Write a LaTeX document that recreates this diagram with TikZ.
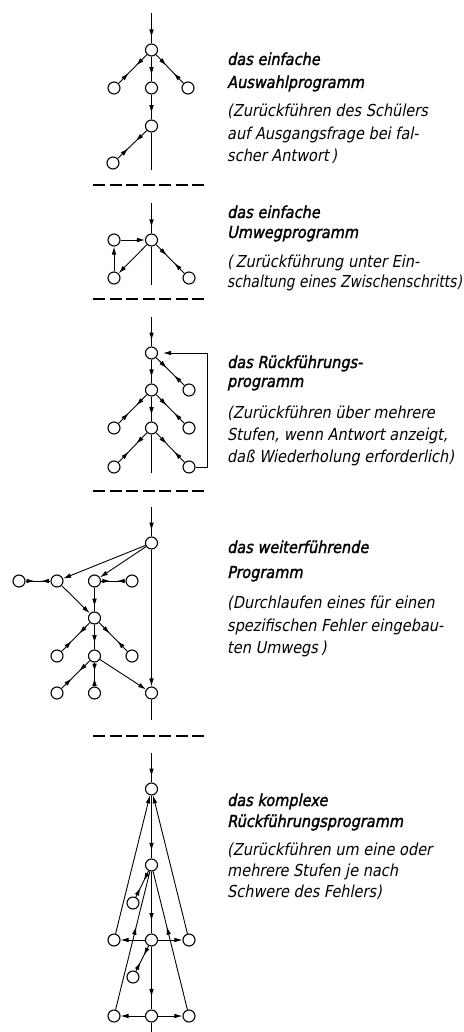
\documentclass[tikz,border=0pt]{standalone}
\usepackage{fontspec}
\usepackage{graphicx}
\usetikzlibrary{arrows.meta,decorations.markings}
\newfontfamily\lettering[FakeStretch=0.88,FakeSlant=0.2]{DejaVu Sans}
\newfontfamily\titlefont[FakeStretch=0.88,FakeSlant=0.2,FakeBold=1.6]{DejaVu Sans}
\tikzset{
  >={Latex[length=8pt,width=4.6pt]},
  st/.style={circle, draw, line width=1.1pt, minimum size=12pt, inner sep=0pt, fill=white},
  ln/.style={line width=0.9pt},
  fwd/.style={ln, postaction={decorate}, decoration={markings, mark=at position #1 with {\arrow{>}}}},
  bidir/.style={ln, postaction={decorate}, decoration={markings,
      mark=at position 0.38 with {\arrow{>}},
      mark=at position 0.64 with {\arrowreversed{>}}}},
  endarr/.style={ln, ->},
  sepline/.style={line width=1.1pt, dash pattern=on 12pt off 4.5pt},
  ttl/.style={anchor=base west, inner sep=0pt, font=\titlefont\fontsize{16.5}{18}\selectfont},
  dsc/.style={anchor=base west, inner sep=0pt, font=\lettering\fontsize{16.5}{18}\selectfont},
}
\begin{document}
\begin{tikzpicture}[x=1pt,y=-1pt]
\path[use as bounding box, fill=white] (0,0) rectangle (463,1032);

% ---------- Section 1 ----------
\coordinate (c1in) at (151.5,13);
\node[st] (A1) at (151.5,50) {};
\node[st] (L1) at (114,88) {};
\node[st] (M1) at (151.5,88) {};
\node[st] (R1) at (188,88) {};
\node[st] (N1) at (151.5,126) {};
\node[st] (L2) at (113,163) {};
\coordinate (c1out) at (151.5,170);
\draw[fwd=0.8] (c1in) -- (A1);
\draw[bidir] (A1) -- (L1);
\draw[bidir] (A1) -- (R1);
\draw[fwd=0.75] (A1) -- (M1);
\draw[fwd=0.75] (M1) -- (N1);
\draw[bidir] (N1) -- (L2);
\draw[ln] (N1) -- (c1out);
\draw[sepline] (93,185) -- (207,185);

\node[ttl] (t1a) at (227,65) {das einfache};
\node[ttl] (t1b) at (227,88) {Auswahlprogramm};
\node[dsc] (t1c) at (227,117) {(Zurückführen des Schülers};
\node[dsc] (t1d) at (227,140) {auf Ausgangsfrage bei fal-};
\node[dsc] (t1e) at (227,162) {scher Antwort\,)};

% ---------- Section 2 ----------
\coordinate (c2in) at (151.5,203);
\node[st] (A2) at (151.5,240) {};
\node[st] (B2) at (114,240) {};
\node[st] (C2) at (114,278) {};
\node[st] (D2) at (189,278) {};
\coordinate (c2out) at (151.5,285);
\draw[fwd=0.8] (c2in) -- (A2);
\draw[endarr] (B2) -- (A2);
\draw[endarr] (C2) -- (B2);
\draw[endarr] (A2) -- (C2);
\draw[bidir] (A2) -- (D2);
\draw[ln] (A2) -- (c2out);
\draw[sepline] (93,299) -- (207,299);

\node[ttl] (t2a) at (227,218) {das einfache};
\node[ttl] (t2b) at (227,238) {Umwegprogramm};
\node[dsc] (t2c) at (227,267) {(\,Zurückführung unter Ein-};
\node[dsc] (t2d) at (227,287) {\scalebox{0.95}[1]{schaltung eines Zwischenschritts)}};

% ---------- Section 3 ----------
\coordinate (c3in) at (151.5,317);
\node[st] (A3) at (151.5,353) {};
\node[st] (R3a) at (189,390) {};
\node[st] (B3) at (151.5,390) {};
\node[st] (L3b) at (114,428) {};
\node[st] (C3) at (151.5,428) {};
\node[st] (R3b) at (189,428) {};
\node[st] (L3c) at (114,467) {};
\node[st] (R3c) at (189,467) {};
\coordinate (c3out) at (151.5,473);
\coordinate (fb1) at (207,467);
\coordinate (fb2) at (207,353);
\draw[fwd=0.8] (c3in) -- (A3);
\draw[bidir] (A3) -- (R3a);
\draw[fwd=0.75] (A3) -- (B3);
\draw[bidir] (B3) -- (L3b);
\draw[bidir] (B3) -- (R3b);
\draw[fwd=0.75] (B3) -- (C3);
\draw[bidir] (C3) -- (L3c);
\draw[bidir] (C3) -- (R3c);
\draw[ln] (C3) -- (c3out);
\draw[ln, ->, shorten >=5pt] (R3c) -- (fb1) -- (fb2) -- (A3);
\draw[sepline] (93,491) -- (207,491);

\node[ttl] (t3a) at (227,368) {das Rückführungs-};
\node[ttl] (t3b) at (227,387) {programm};
\node[dsc] (t3c) at (227,418) {(Zurückführen über mehrere};
\node[dsc] (t3d) at (227,440) {Stufen, wenn Antwort anzeigt,};
\node[dsc] (t3e) at (227,462) {daß Wiederholung erforderlich)};

% ---------- Section 4 ----------
\coordinate (c4in) at (151.5,507);
\node[st] (A4) at (151.5,543) {};
\node[st] (F4a) at (19,581) {};
\node[st] (F4b) at (57,581) {};
\node[st] (F4c) at (94.5,581) {};
\node[st] (F4d) at (132,581) {};
\node[st] (G4) at (94.5,618) {};
\node[st] (H4a) at (57,656) {};
\node[st] (H4) at (94.5,656) {};
\node[st] (H4b) at (132,656) {};
\node[st] (I4a) at (57,693) {};
\node[st] (I4b) at (94.5,693) {};
\node[st] (J4) at (151.5,693) {};
\coordinate (c4out) at (151.5,720);
\draw[fwd=0.8] (c4in) -- (A4);
\draw[endarr] (A4) -- (F4b);
\draw[endarr] (A4) -- (F4c);
\draw[endarr] (A4) -- (J4);
\draw[bidir] (F4b) -- (F4a);
\draw[bidir] (F4c) -- (F4d);
\draw[endarr] (F4b) -- (G4);
\draw[fwd=0.8] (F4c) -- (G4);
\draw[bidir] (G4) -- (H4a);
\draw[bidir] (G4) -- (H4b);
\draw[fwd=0.75] (G4) -- (H4);
\draw[bidir] (H4) -- (I4a);
\draw[bidir] (H4) -- (I4b);
\draw[endarr] (H4) -- (J4);
\draw[ln] (J4) -- (c4out);
\draw[sepline] (93,736) -- (207,736);

\node[ttl] (t4a) at (227,553) {das weiterführende};
\node[ttl] (t4b) at (227,578) {Programm};
\node[dsc] (t4c) at (227,608) {(Durchlaufen eines für einen};
\node[dsc] (t4d) at (227,631) {spezifischen Fehler eingebau-};
\node[dsc] (t4e) at (227,653) {ten Umwegs\,)};

% ---------- Section 5 ----------
\coordinate (c5in) at (151.5,753);
\node[st] (T5) at (151.5,789) {};
\node[st] (M5) at (151.5,865) {};
\node[st] (S5a) at (133,903) {};
\node[st] (R5L) at (114,940) {};
\node[st] (R5C) at (151.5,940) {};
\node[st] (R5R) at (189,940) {};
\node[st] (S5b) at (133,977) {};
\node[st] (B5L) at (114,1016) {};
\node[st] (B5C) at (151.5,1016) {};
\node[st] (B5R) at (189,1016) {};
\coordinate (c5out) at (151.5,1032);
\draw[fwd=0.8] (c5in) -- (T5);
\draw[fwd=0.88] (T5) -- (M5);
\draw[endarr] (R5L) -- (T5);
\draw[endarr] (R5R) -- (T5);
\draw[bidir] (M5) -- (S5a);
\draw[fwd=0.8] (M5) -- (R5C);
\draw[endarr] (R5C) -- (R5L);
\draw[endarr] (R5C) -- (R5R);
\draw[bidir] (R5C) -- (S5b);
\draw[fwd=0.8] (R5C) -- (B5C);
\draw[endarr] (B5C) -- (B5L);
\draw[endarr] (B5C) -- (B5R);
\draw[fwd=0.6] (B5L) -- (M5);
\draw[fwd=0.6] (B5R) -- (M5);
\draw[ln] (B5C) -- (c5out);

\node[ttl] (t5a) at (227,806) {das komplexe};
\node[ttl] (t5b) at (227,827) {Rückführungsprogramm};
\node[dsc] (t5c) at (227,855) {(Zurückführen um eine oder};
\node[dsc] (t5d) at (227,876) {mehrere Stufen je nach};
\node[dsc] (t5e) at (227,897) {Schwere des Fehlers)};
\end{tikzpicture}
\end{document}
